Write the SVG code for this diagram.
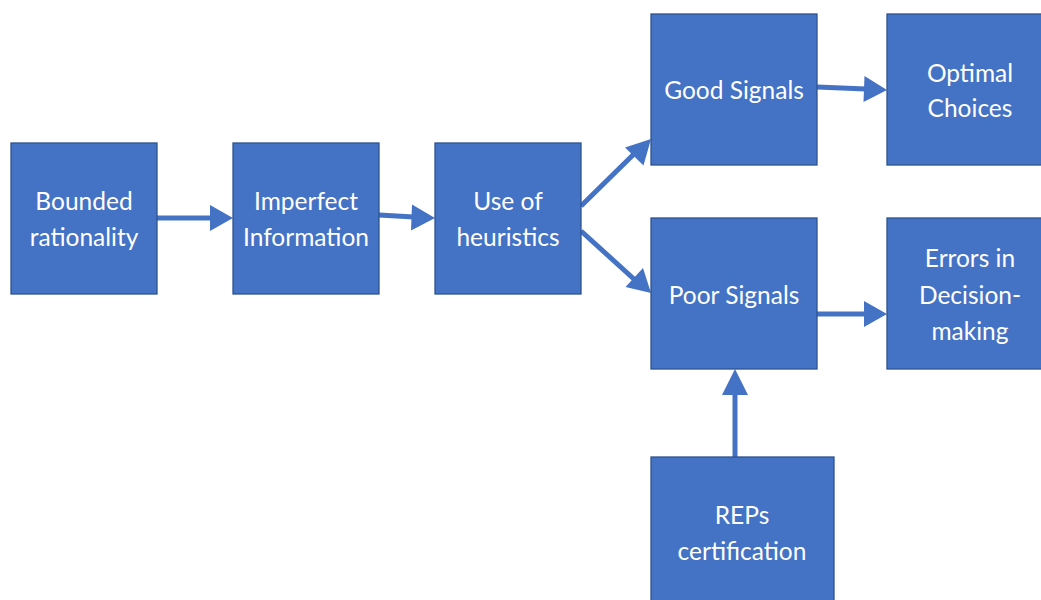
<svg xmlns="http://www.w3.org/2000/svg" width="1041" height="600" viewBox="0 0 1041 600">
<defs>
<style>
.box{fill:#4472C4;stroke:#2F528F;stroke-width:1.3}
.t{fill:#fff;font-family:Lato,"Open Sans",sans-serif;font-size:24.5px;text-anchor:middle;dominant-baseline:central}
.c{stroke:#4472C4;stroke-width:5;fill:none}
.h{fill:#4472C4}
</style>
</defs>
<rect width="1041" height="600" fill="#fff"/>
<g id="connectors">
<line class="c" x1="157" y1="218" x2="212" y2="218"/>
<polygon class="h" points="233,218 210,205 210,231"/>
<line class="c" x1="379" y1="215" x2="414" y2="217"/>
<polygon class="h" points="435,218 412,204.5 411,230.5"/>
<line class="c" x1="581" y1="206" x2="635" y2="153"/>
<polygon class="h" points="651,139 625,147.5 643.5,165.5"/>
<line class="c" x1="581" y1="231" x2="635" y2="280"/>
<polygon class="h" points="651,293 643,268 625.5,287"/>
<line class="c" x1="817" y1="87" x2="866" y2="89"/>
<polygon class="h" points="887,90 864.5,76 863.5,102"/>
<line class="c" x1="817" y1="314" x2="866" y2="314"/>
<polygon class="h" points="887,314 864,301 864,327"/>
<line class="c" x1="735" y1="457" x2="735" y2="390"/>
<polygon class="h" points="735,369 722,395 748,395"/>
</g>
<g id="bounded">
<rect class="box" x="11" y="143" width="146" height="151"/>
<text class="t" x="84" y="200">Bounded</text>
<text class="t" x="84" y="236">rationality</text>
</g>
<g id="imperfect">
<rect class="box" x="233" y="143" width="146" height="151"/>
<text class="t" x="306" y="200">Imperfect</text>
<text class="t" x="306" y="236">Information</text>
</g>
<g id="heuristics">
<rect class="box" x="435" y="143" width="146" height="151"/>
<text class="t" x="508" y="200">Use of</text>
<text class="t" x="508" y="236">heuristics</text>
</g>
<g id="good">
<rect class="box" x="651" y="14" width="166" height="151"/>
<text class="t" x="734" y="89">Good Signals</text>
</g>
<g id="optimal">
<rect class="box" x="887" y="14" width="166" height="151"/>
<text class="t" x="970" y="72">Optimal</text>
<text class="t" x="970" y="107">Choices</text>
</g>
<g id="poor">
<rect class="box" x="651" y="218" width="166" height="151"/>
<text class="t" x="734" y="294">Poor Signals</text>
</g>
<g id="errors">
<rect class="box" x="887" y="218" width="166" height="151"/>
<text class="t" x="970" y="257">Errors in</text>
<text class="t" x="970" y="294">Decision-</text>
<text class="t" x="970" y="330">making</text>
</g>
<g id="reps">
<rect class="box" x="651" y="457" width="183" height="160"/>
<text class="t" x="742" y="514">REPs</text>
<text class="t" x="742" y="550">certification</text>
</g>
</svg>
